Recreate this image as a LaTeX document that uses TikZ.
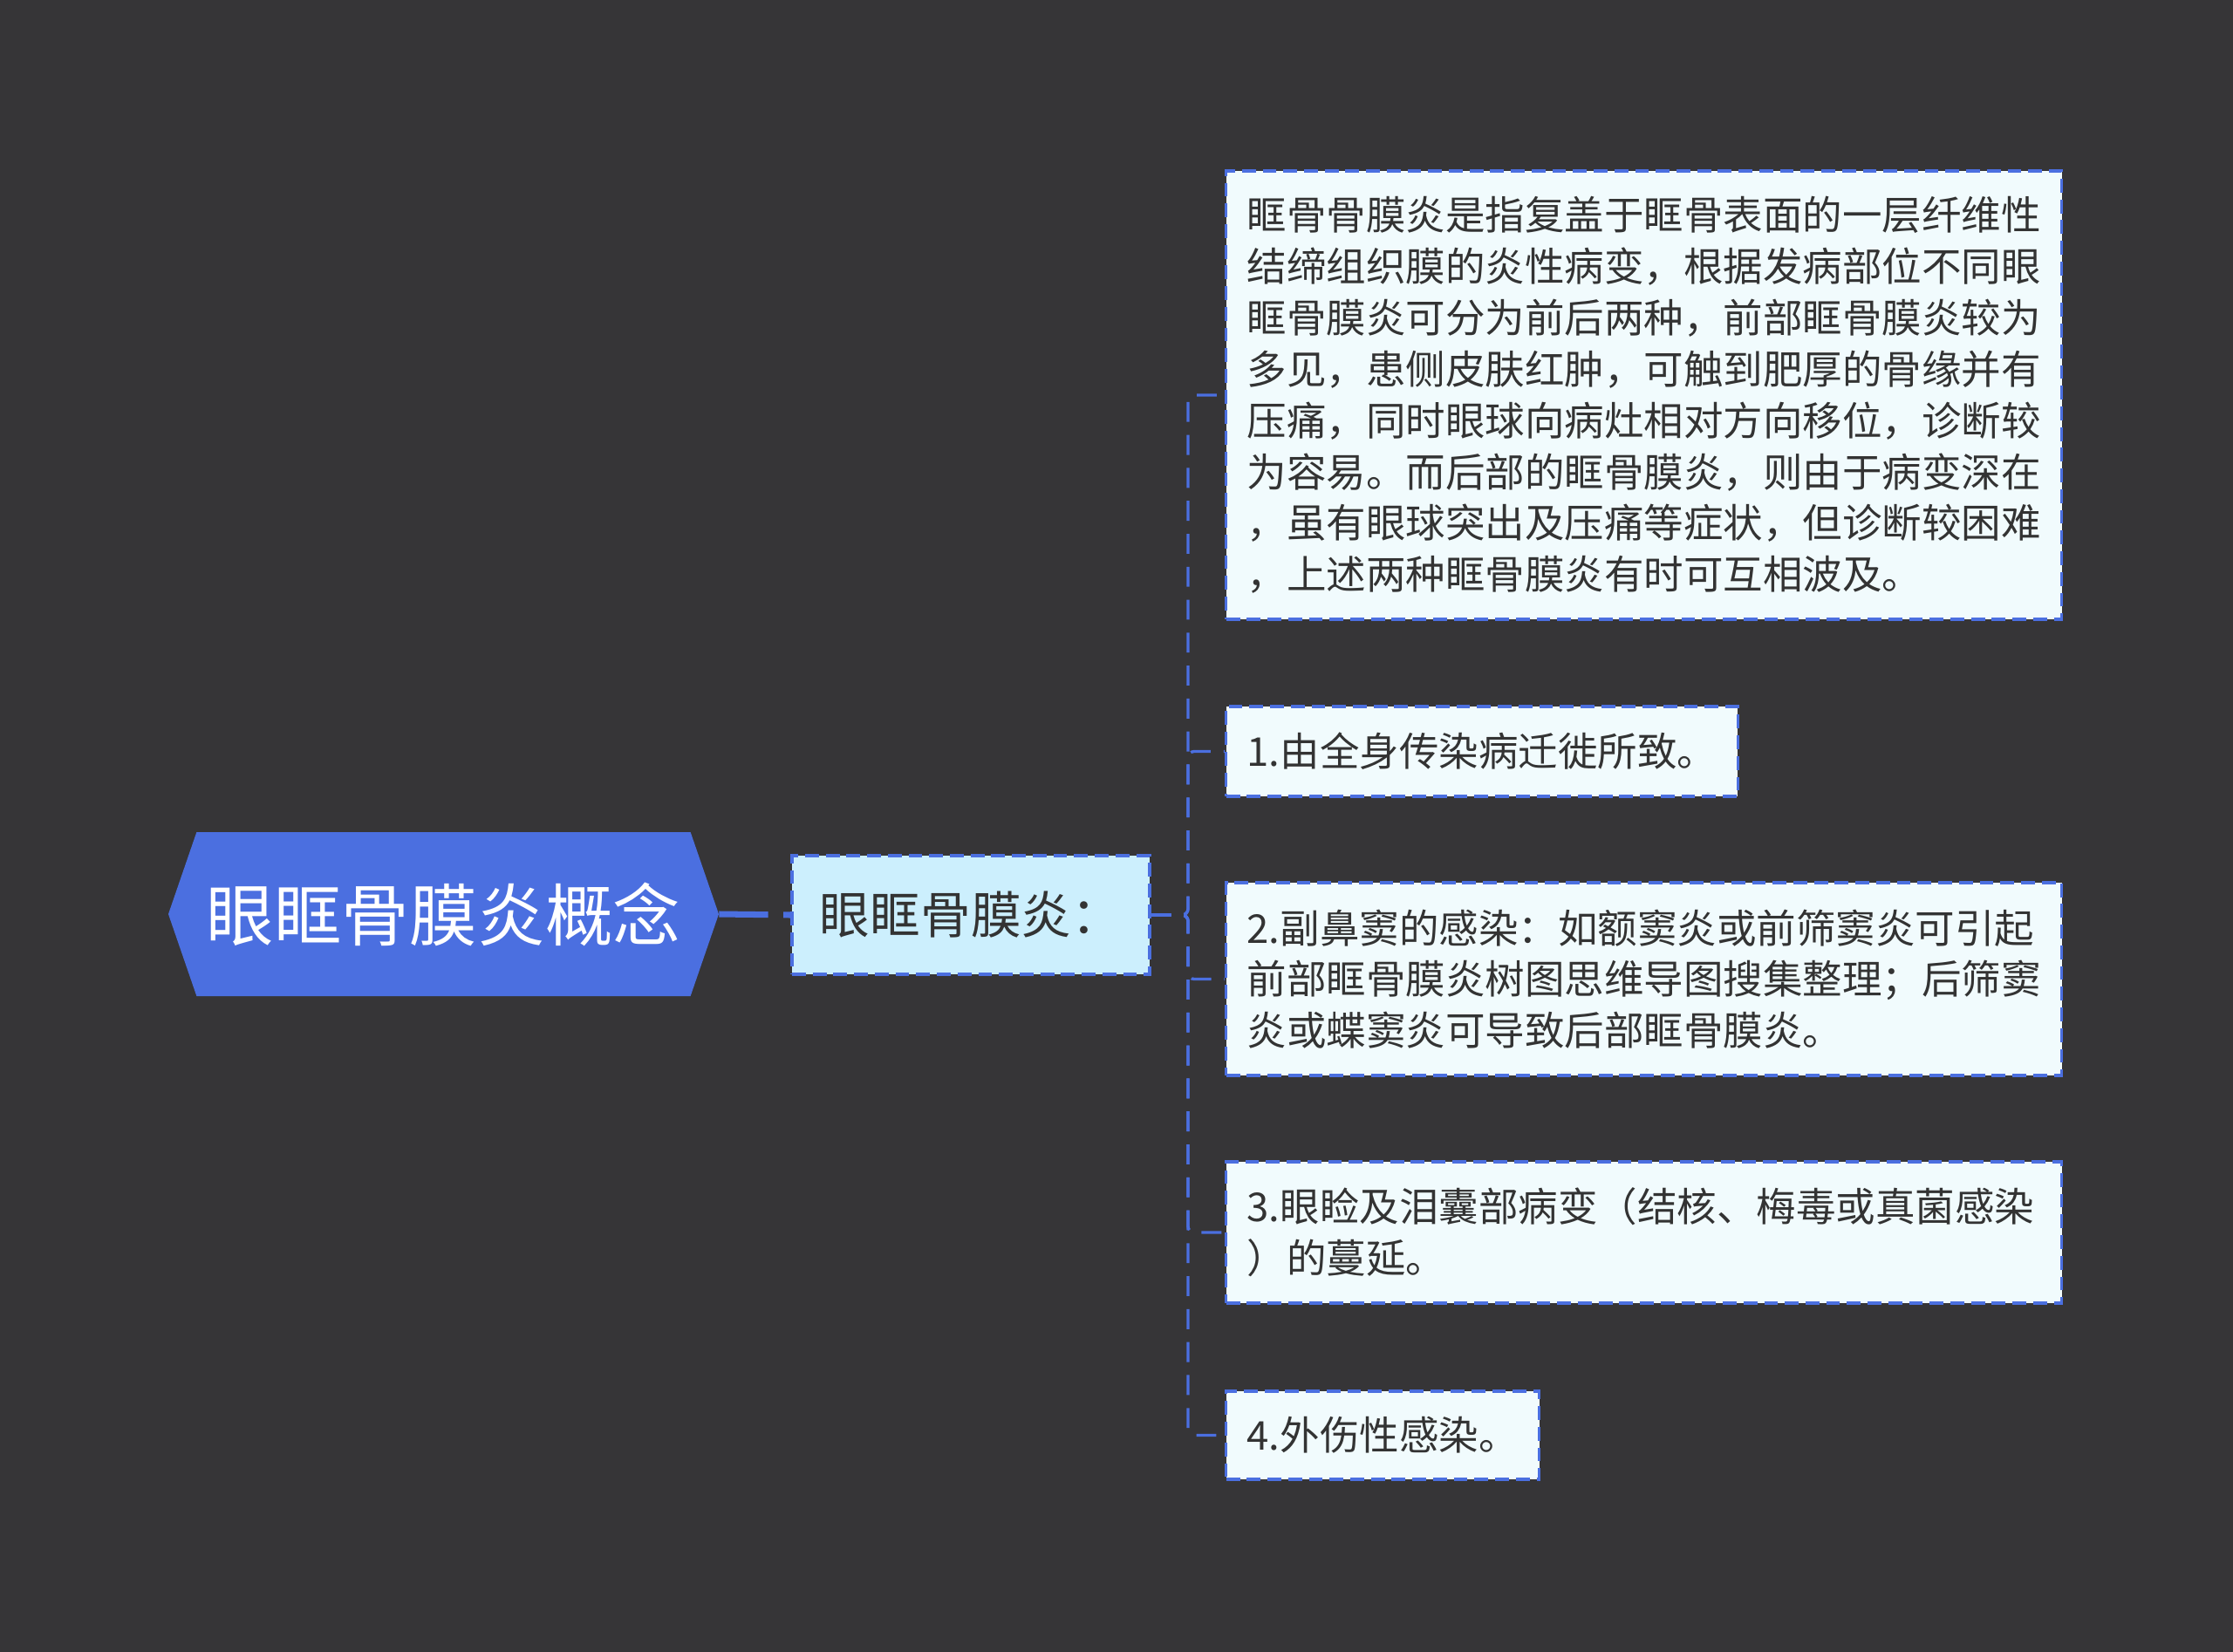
\documentclass[tikz,border=0pt]{standalone}
\usepackage{fontspec}
\setmainfont{Noto Sans CJK SC}
\usetikzlibrary{shapes.symbols}

\definecolor{bgGray}{HTML}{363537}
\definecolor{rootBlue}{HTML}{4B6FE0}
\definecolor{lineBlue}{HTML}{4B6FE0}
\definecolor{subFill}{HTML}{CCEFFD}
\definecolor{leafFill}{HTML}{F1FBFD}
\definecolor{textGray}{HTML}{333333}

\begin{document}
\begin{tikzpicture}[
  rootbox/.style={shape=signal, signal to=west and east, signal pointer angle=142,
    fill=rootBlue, text=white, minimum width=12.62cm, minimum height=3.76cm,
    inner sep=0pt, font=\fontsize{44.2}{50}\selectfont},
  subbox/.style={draw=lineBlue, line width=1.9pt, dash pattern=on 9pt off 4.5pt,
    fill=subFill, text=textGray, minimum width=8.2cm, minimum height=2.72cm,
    font=\fontsize{32.9}{40}\selectfont},
  leafbox/.style={draw=lineBlue, line width=1.9pt, dash pattern=on 9pt off 4.5pt,
    fill=leafFill, text=textGray, anchor=west, inner xsep=0.48cm, inner ysep=0pt,
    align=left, font=\fontsize{25.9}{33.5}\selectfont},
  branch/.style={draw=lineBlue, line width=1.9pt, dash pattern=on 13pt off 8.5pt,
    rounded corners=4pt}
]
  % Setup
  \def\spine{27.24}
  \def\leafx{28.08}
  \def\wide{19.16cm}

  % Background
  \fill[bgGray] (0,0) rectangle (51.2,-37.88);
  \useasboundingbox (0,0) rectangle (51.2,-37.88);

  % Root and sub topic
  \node[rootbox] (root) at (10.17,-20.96) {眼眶骨膜炎概念};
  \node[subbox] (eyeSub) at (22.26,-20.98) {眼眶骨膜炎：};
  \draw[lineBlue, line width=4pt, dash pattern=on 32pt off 10pt] (root.east) -- (eyeSub.west);

  % Leaves
  \node[leafbox, minimum width=\wide, text width=18.2cm, minimum height=10.28cm] (leafDef) at (\leafx,-9.06)
    {眶骨骨膜炎是指复盖于眶骨表面的一层纤维性\\
     结缔组织膜的炎性病变，根据发病部位不同眼\\
     眶骨膜炎可分为前后两种，前部眶骨膜炎较为\\
     多见，患侧皮肤红肿，可触到肥厚的骨缘并有\\
     压痛，同时眼球向病灶相对方向移位，诊断较\\
     为容易。而后部的眶骨膜炎，则由于病变深在\\
     ，虽有眼球突出及压痛等症状，但诊断较困难\\
     ，上述两种眶骨膜炎有时可互相波及。};
  \node[leafbox, minimum width=11.7cm, minimum height=2.06cm] (leafOne) at (\leafx,-17.23)
    {1.由全身传染病迁徙所致。};
  \node[leafbox, minimum width=\wide, text width=18.2cm, minimum height=4.42cm] (leafTwo) at (\leafx,-22.45)
    {2.副鼻窦的感染：如额窦炎或前筛窦炎可引起\\
     前部眶骨膜炎树图思维导图搜集整理；后筛窦\\
     炎或蝶窦炎可导致后部眶骨膜炎。};
  \node[leafbox, minimum width=\wide, text width=18.2cm, minimum height=3.24cm] (leafThree) at (\leafx,-28.26)
    {3.眼睑及泪囊部病变（结核、梅毒或真菌感染\\
     ）的蔓延。};
  \node[leafbox, minimum width=7.12cm, minimum height=2.02cm] (leafFour) at (\leafx,-32.91)
    {4.外伤性感染。};

  % Branches
  \coordinate (fork) at (\spine,-20.98);
  \foreach \n in {leafDef,leafOne,leafTwo,leafThree,leafFour}
    \draw[branch] (eyeSub.east) -- (fork) |- (\n.west);

\end{tikzpicture}
\end{document}
